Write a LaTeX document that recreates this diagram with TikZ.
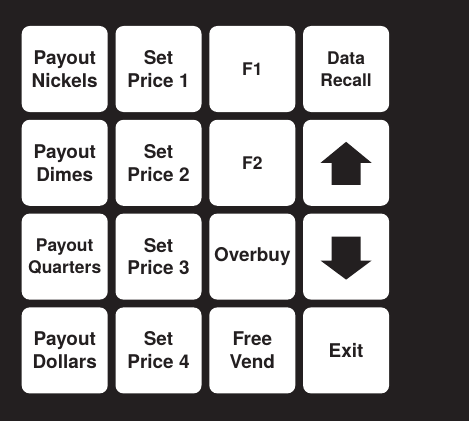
\documentclass[tikz,border=0pt]{standalone}
\usepackage{fontspec}
\setmainfont{TeX Gyre Heros}
\definecolor{panel}{HTML}{231F20}
\tikzset{
	key/.style={fill=white, rounded corners=8bp, minimum width=86bp, minimum height=86bp, inner sep=0pt, align=center, text=panel, font=\bfseries\fontsize{19}{23}\selectfont},
	smallkey/.style={key, font=\bfseries\fontsize{17.5}{22}\selectfont}
}
\begin{document}
\begin{tikzpicture}[x=1bp, y=1bp]
	\fill[panel] (0,0) rectangle (469,421);
	% column 1
	\node[key] (nickels) at (64.7, 352) {Payout\\Nickels};
	\node[key] (dimes) at (64.7, 258.2) {Payout\\Dimes};
	\node[smallkey] (quarters) at (64.7, 164.4) {Payout\\Quarters};
	\node[key] (dollars) at (64.7, 70.6) {Payout\\Dollars};
	% column 2
	\node[key] (price1) at (158.5, 352) {Set\\Price 1};
	\node[key] (price2) at (158.5, 258.2) {Set\\Price 2};
	\node[key] (price3) at (158.5, 164.4) {Set\\Price 3};
	\node[key] (price4) at (158.5, 70.6) {Set\\Price 4};
	% column 3
	\node[smallkey] (f1) at (252.3, 352) {F1};
	\node[smallkey] (f2) at (252.3, 258.2) {F2};
	\node[key] (overbuy) at (252.3, 164.4) {Overbuy};
	\node[key] (freevend) at (252.3, 70.6) {Free\\Vend};
	% column 4
	\node[smallkey] (recall) at (346.1, 352) {Data\\Recall};
	\node[key] (up) at (346.1, 258.2) {};
	\node[key] (down) at (346.1, 164.4) {};
	\node[key] (exit) at (346.1, 70.6) {Exit};
	% arrows
	\fill[panel, shift={(up.center)}] (0,21) -- (25.5,0) -- (14.5,0) -- (14.5,-22) -- (-14.5,-22) -- (-14.5,0) -- (-25.5,0) -- cycle;
	\fill[panel, shift={(down.center)}] (0,-23) -- (25.5,-4) -- (14.5,-4) -- (14.5,20) -- (-14.5,20) -- (-14.5,-4) -- (-25.5,-4) -- cycle;
\end{tikzpicture}
\end{document}
